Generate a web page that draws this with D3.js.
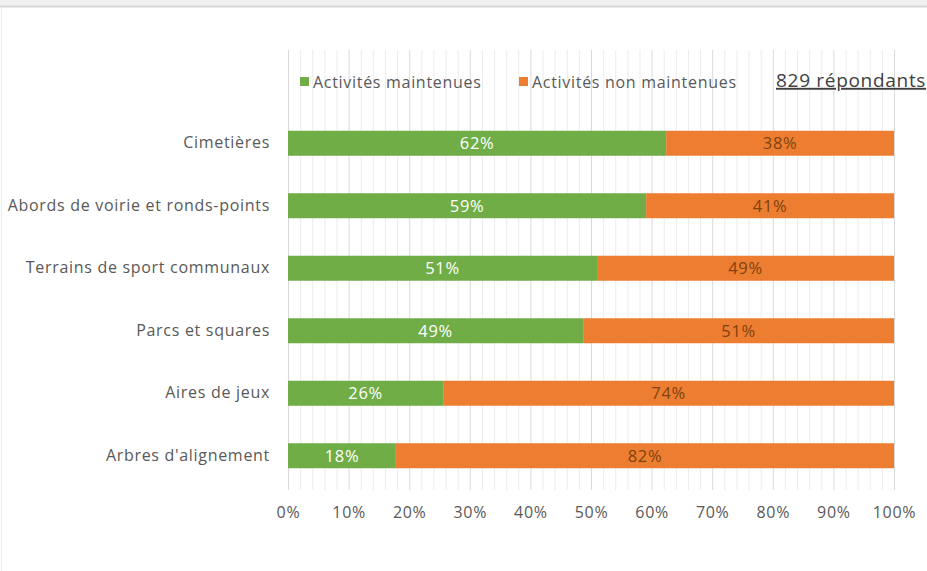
<!DOCTYPE html>
<html>
<head>
<meta charset="utf-8">
<script src="https://cdn.jsdelivr.net/npm/d3@7"></script>
<style>
  body { margin: 0; background: #fff; }
  text { font-family: "Open Sans", sans-serif; letter-spacing: 0.7px; }
</style>
</head>
<body>
<div id="chart"></div>
<script>
const categories = ['Cimetières', 'Abords de voirie et ronds-points', 'Terrains de sport communaux',
  'Parcs et squares', 'Aires de jeux', "Arbres d'alignement"]
const maintenues = [62.4, 59.1, 51.0, 48.7, 25.6, 17.8]
const nonMaintenues = [37.6, 40.9, 49.0, 51.3, 74.4, 82.2]
const seriesNames = ['Activités maintenues', 'Activités non maintenues']
const xTicks = [0, 10, 20, 30, 40, 50, 60, 70, 80, 90, 100]
const note = '829 répondants'

const width = 927, height = 571
const green = '#70ad47', orange = '#ed7d31'
const textGray = '#595959'

const svg = d3.select('#chart').append('svg')
  .attr('width', width)
  .attr('height', height)

// bandeau gris en haut
svg.append('rect').attr('x', 0).attr('y', 0).attr('width', width).attr('height', 6).attr('fill', '#f0f0f0')
svg.append('line').attr('x1', 0).attr('x2', width).attr('y1', 6.5).attr('y2', 6.5).attr('stroke', '#d6d6d6').attr('stroke-width', 2)
svg.append('line').attr('x1', 1.5).attr('x2', 1.5).attr('y1', 7).attr('y2', height).attr('stroke', '#ececec')

const x = d3.scaleLinear().domain([0, 100]).range([288, 894])
const y = d3.scaleBand().domain(categories).range([112, 487]).paddingInner(0.6).paddingOuter(0.3)

// grille : mineure tous les 2 %, majeure tous les 10 %
const grid = svg.append('g')
grid.selectAll('line.minor')
  .data(d3.range(0, 101, 2).filter(v => v % 10 !== 0))
  .enter().append('line')
  .attr('x1', d => x(d) + 0.5).attr('x2', d => x(d) + 0.5)
  .attr('y1', 50).attr('y2', 490)
  .attr('stroke', '#ececec')
grid.selectAll('line.major')
  .data(xTicks)
  .enter().append('line')
  .attr('x1', d => x(d) + 0.5).attr('x2', d => x(d) + 0.5)
  .attr('y1', 50).attr('y2', 490)
  .attr('stroke', '#d9d9d9')

// barres
const rows = categories.map((c, i) => ({ cat: c, a: maintenues[i], b: nonMaintenues[i] }))
const bars = svg.append('g')
bars.selectAll('rect.a').data(rows).enter().append('rect')
  .attr('x', x(0))
  .attr('y', d => y(d.cat))
  .attr('width', d => x(d.a) - x(0))
  .attr('height', y.bandwidth())
  .attr('fill', green)
bars.selectAll('rect.b').data(rows).enter().append('rect')
  .attr('x', d => x(d.a))
  .attr('y', d => y(d.cat))
  .attr('width', d => x(d.a + d.b) - x(d.a))
  .attr('height', y.bandwidth())
  .attr('fill', orange)

// étiquettes de valeurs
bars.selectAll('text.a').data(rows).enter().append('text')
  .attr('x', d => x(d.a / 2))
  .attr('y', d => y(d.cat) + y.bandwidth() / 2)
  .attr('dy', '0.36em')
  .attr('text-anchor', 'middle')
  .attr('font-size', 16.5)
  .attr('fill', '#fff')
  .text(d => Math.round(d.a) + '%')
bars.selectAll('text.b').data(rows).enter().append('text')
  .attr('x', d => x(d.a + d.b / 2))
  .attr('y', d => y(d.cat) + y.bandwidth() / 2)
  .attr('dy', '0.36em')
  .attr('text-anchor', 'middle')
  .attr('font-size', 16.5)
  .attr('fill', '#7f4310')
  .text(d => Math.round(d.b) + '%')

// axe y (libellés seulement)
const yAxis = svg.append('g')
  .attr('transform', `translate(${x(0) - 18},0)`)
  .call(d3.axisLeft(y).tickSize(0).tickPadding(0))
yAxis.select('.domain').remove()
yAxis.selectAll('text').attr('font-size', 16).attr('fill', textGray).attr('font-family', '"Open Sans", sans-serif')

// axe x
const xAxis = svg.append('g')
  .attr('transform', 'translate(0,512)')
  .call(d3.axisBottom(x).tickValues(xTicks).tickFormat(d => d + '%').tickSize(0).tickPadding(0))
xAxis.select('.domain').remove()
xAxis.selectAll('text').attr('font-size', 16).attr('fill', textGray).attr('dy', '0.36em').attr('font-family', '"Open Sans", sans-serif')

// légende
const legend = svg.append('g')
const legendX = [300, 519]
seriesNames.forEach((name, i) => {
  legend.append('rect')
    .attr('x', legendX[i]).attr('y', 77).attr('width', 9).attr('height', 9)
    .attr('fill', i === 0 ? green : orange)
  legend.append('text')
    .attr('x', legendX[i] + 13).attr('y', 82).attr('dy', '0.36em')
    .attr('font-size', 16).attr('fill', textGray)
    .text(name)
})

svg.append('text')
  .attr('x', 776).attr('y', 80).attr('dy', '0.36em')
  .attr('font-size', 19).attr('fill', '#404040')
  .attr('letter-spacing', '1px')
  .attr('text-decoration', 'underline')
  .text(note)
</script>
</body>
</html>
